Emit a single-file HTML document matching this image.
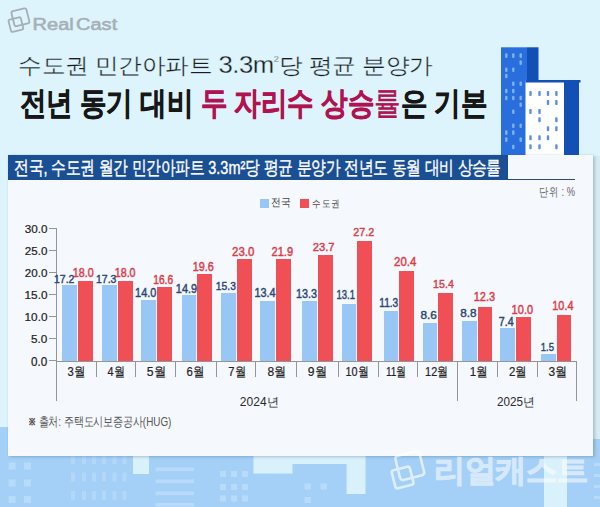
<!DOCTYPE html>
<html><head><meta charset="utf-8"><style>
*{margin:0;padding:0;box-sizing:border-box}
html,body{width:600px;height:507px;overflow:hidden}
body{position:relative;background:#ddf4fc;font-family:"Liberation Sans",sans-serif;color:#222}
.a{position:absolute}
.t{position:absolute;white-space:nowrap;line-height:1.2}
.ax{position:absolute;background:#959595}
.bb{position:absolute;background:#98c7f6}
.br{position:absolute;background:#ef4f55}
</style></head>
<body>
<svg class="a" style="left:0;top:420px" width="600" height="87" viewBox="0 420 600 87"><rect x="0" y="427" width="300" height="80" fill="#a4d0f8"/><rect x="300" y="439" width="300" height="68" fill="#a4d0f8"/><rect x="593" y="420" width="7" height="19" fill="#d3ecf8"/><rect x="8.7" y="445.5" width="7" height="7" fill="#b7dbf8"/><rect x="8.7" y="462.5" width="7" height="7" fill="#b7dbf8"/><rect x="8.7" y="479.5" width="7" height="7" fill="#b7dbf8"/><rect x="8.7" y="496" width="7" height="7" fill="#b7dbf8"/><rect x="24" y="445.5" width="7" height="7" fill="#b7dbf8"/><rect x="24" y="462.5" width="7" height="7" fill="#b7dbf8"/><rect x="24" y="479.5" width="7" height="7" fill="#b7dbf8"/><rect x="24" y="496" width="7" height="7" fill="#b7dbf8"/><rect x="71" y="455" width="4" height="9" fill="#b2d7f7"/><rect x="71" y="472.5" width="4" height="9" fill="#b2d7f7"/><rect x="71" y="491" width="4" height="9" fill="#b2d7f7"/><rect x="82" y="455" width="4" height="9" fill="#b2d7f7"/><rect x="82" y="472.5" width="4" height="9" fill="#b2d7f7"/><rect x="82" y="491" width="4" height="9" fill="#b2d7f7"/><rect x="92" y="455" width="4" height="9" fill="#b2d7f7"/><rect x="92" y="472.5" width="4" height="9" fill="#b2d7f7"/><rect x="92" y="491" width="4" height="9" fill="#b2d7f7"/><rect x="102" y="455" width="4" height="9" fill="#b2d7f7"/><rect x="102" y="472.5" width="4" height="9" fill="#b2d7f7"/><rect x="102" y="491" width="4" height="9" fill="#b2d7f7"/><rect x="112.5" y="455" width="4" height="9" fill="#b2d7f7"/><rect x="112.5" y="472.5" width="4" height="9" fill="#b2d7f7"/><rect x="112.5" y="491" width="4" height="9" fill="#b2d7f7"/><rect x="122.5" y="455" width="4" height="9" fill="#b2d7f7"/><rect x="122.5" y="472.5" width="4" height="9" fill="#b2d7f7"/><rect x="122.5" y="491" width="4" height="9" fill="#b2d7f7"/><rect x="133" y="440" width="16" height="34" fill="#d9f1fb"/><rect x="155.5" y="467.5" width="38.5" height="3.6" fill="#b7dbf8"/><rect x="155.5" y="479.5" width="38.5" height="3.6" fill="#b7dbf8"/><rect x="155.5" y="491.5" width="38.5" height="3.6" fill="#b7dbf8"/><rect x="155.5" y="503" width="38.5" height="3.6" fill="#b7dbf8"/><rect x="220" y="471" width="6" height="6" fill="#b7dbf8"/><rect x="220" y="484" width="6" height="6" fill="#b7dbf8"/><rect x="220" y="495.5" width="6" height="6" fill="#b7dbf8"/><rect x="231" y="471" width="6" height="6" fill="#b7dbf8"/><rect x="231" y="484" width="6" height="6" fill="#b7dbf8"/><rect x="231" y="495.5" width="6" height="6" fill="#b7dbf8"/><rect x="242" y="471" width="6" height="6" fill="#b7dbf8"/><rect x="242" y="484" width="6" height="6" fill="#b7dbf8"/><rect x="242" y="495.5" width="6" height="6" fill="#b7dbf8"/><path d="M253.5 440 H365.5 V494 H346.6 V464 H292.5 V473.6 H253.5 Z" fill="#d9f1fb"/><rect x="304.5" y="483.5" width="6.5" height="6" fill="#b7dbf8"/><rect x="320.5" y="483.5" width="6.5" height="6" fill="#b7dbf8"/><rect x="304.5" y="497" width="6.5" height="6" fill="#b7dbf8"/><rect x="544" y="440" width="23" height="67" fill="#d9f1fb"/><rect x="594" y="463" width="6" height="3" fill="#b7dbf8"/><rect x="594" y="474" width="6" height="3" fill="#b7dbf8"/><rect x="594" y="485" width="6" height="3" fill="#b7dbf8"/><rect x="594" y="496" width="6" height="3" fill="#b7dbf8"/></svg>
<svg class="a" style="left:0;top:0;overflow:visible" width="600" height="507" viewBox="0 0 600 507"><g fill="none" stroke="#a6afb6" stroke-width="1.8" opacity="1"><rect x="12.70" y="9.60" width="15.4" height="15.4" rx="1.85" transform="rotate(-14 20.4 17.3)"/><rect x="9.60" y="18.30" width="12.6" height="12.6" rx="1.51" transform="rotate(-14 15.9 24.6)"/></g></svg>
<svg class="a" style="left:495px;top:40px" width="100" height="120" viewBox="495 40 100 120"><rect x="501" y="47.3" width="26" height="110" fill="#2a6ddc"/><rect x="527" y="47.3" width="11.5" height="110" fill="#1350b6"/><rect x="505.1" y="53.300000000000004" width="2.4" height="4.6" rx="1" fill="#7ab2f3"/><rect x="512.0999999999999" y="53.300000000000004" width="2.4" height="4.6" rx="1" fill="#7ab2f3"/><rect x="519.5" y="53.300000000000004" width="2.4" height="4.6" rx="1" fill="#7ab2f3"/><rect x="519.5" y="60.300000000000004" width="2.4" height="4.6" rx="1" fill="#7ab2f3"/><rect x="505.1" y="67.4" width="2.4" height="4.6" rx="1" fill="#7ab2f3"/><rect x="512.0999999999999" y="67.4" width="2.4" height="4.6" rx="1" fill="#7ab2f3"/><rect x="505.1" y="73.7" width="2.4" height="4.6" rx="1" fill="#7ab2f3"/><rect x="512.0999999999999" y="81.5" width="2.4" height="4.6" rx="1" fill="#7ab2f3"/><rect x="519.5" y="81.5" width="2.4" height="4.6" rx="1" fill="#7ab2f3"/><rect x="505.1" y="88.7" width="2.4" height="4.6" rx="1" fill="#7ab2f3"/><rect x="512.0999999999999" y="88.7" width="2.4" height="4.6" rx="1" fill="#7ab2f3"/><rect x="505.1" y="95.7" width="2.4" height="4.6" rx="1" fill="#7ab2f3"/><rect x="512.0999999999999" y="95.7" width="2.4" height="4.6" rx="1" fill="#7ab2f3"/><rect x="519.5" y="95.7" width="2.4" height="4.6" rx="1" fill="#7ab2f3"/><rect x="519.5" y="102.5" width="2.4" height="4.6" rx="1" fill="#7ab2f3"/><rect x="512.0999999999999" y="109.5" width="2.4" height="4.6" rx="1" fill="#7ab2f3"/><rect x="512.0999999999999" y="123.4" width="2.4" height="4.6" rx="1" fill="#7ab2f3"/><rect x="519.5" y="123.4" width="2.4" height="4.6" rx="1" fill="#7ab2f3"/><rect x="505.1" y="130.29999999999998" width="2.4" height="4.6" rx="1" fill="#7ab2f3"/><rect x="512.0999999999999" y="130.29999999999998" width="2.4" height="4.6" rx="1" fill="#7ab2f3"/><rect x="505.1" y="137.29999999999998" width="2.4" height="4.6" rx="1" fill="#7ab2f3"/><rect x="519.5" y="137.29999999999998" width="2.4" height="4.6" rx="1" fill="#7ab2f3"/><rect x="512.0999999999999" y="144.7" width="2.4" height="4.6" rx="1" fill="#7ab2f3"/><rect x="525.5" y="80" width="39" height="80" fill="#ffffff"/><rect x="564" y="80" width="15" height="80" fill="#1350b6"/><rect x="525.5" y="80" width="55" height="2.5" fill="#1350b6"/><rect x="529.3" y="91.1" width="2.4" height="5" rx="0.8" fill="#5c8fe0"/><rect x="538.3" y="91.1" width="2.4" height="5" rx="0.8" fill="#5c8fe0"/><rect x="546.8" y="91.1" width="2.4" height="5" rx="0.8" fill="#5c8fe0"/><rect x="555.1999999999999" y="91.1" width="2.4" height="5" rx="0.8" fill="#5c8fe0"/><rect x="546.8" y="100.1" width="2.4" height="5" rx="0.8" fill="#5c8fe0"/><rect x="555.1999999999999" y="100.1" width="2.4" height="5" rx="0.8" fill="#5c8fe0"/><rect x="529.3" y="109.0" width="2.4" height="5" rx="0.8" fill="#5c8fe0"/><rect x="538.3" y="109.0" width="2.4" height="5" rx="0.8" fill="#5c8fe0"/><rect x="538.3" y="117.2" width="2.4" height="5" rx="0.8" fill="#5c8fe0"/><rect x="555.1999999999999" y="117.2" width="2.4" height="5" rx="0.8" fill="#5c8fe0"/><rect x="546.8" y="126.19999999999999" width="2.4" height="5" rx="0.8" fill="#5c8fe0"/><rect x="555.1999999999999" y="126.19999999999999" width="2.4" height="5" rx="0.8" fill="#5c8fe0"/><rect x="529.3" y="135.2" width="2.4" height="5" rx="0.8" fill="#5c8fe0"/><rect x="538.3" y="135.2" width="2.4" height="5" rx="0.8" fill="#5c8fe0"/><rect x="546.8" y="135.2" width="2.4" height="5" rx="0.8" fill="#5c8fe0"/><rect x="529.3" y="144.2" width="2.4" height="5" rx="0.8" fill="#5c8fe0"/><rect x="538.3" y="144.2" width="2.4" height="5" rx="0.8" fill="#5c8fe0"/><rect x="555.1999999999999" y="144.2" width="2.4" height="5" rx="0.8" fill="#5c8fe0"/></svg>
<div class="a" style="left:593px;top:156px;width:7px;height:283px;background:#d6edf5"></div>
<div class="a" style="left:8px;top:155px;width:585px;height:300.8px;background:#f5f8fd;box-shadow:2px 1px 3px rgba(55,85,100,.28),0 0 1px rgba(50,85,105,.2)"></div>
<div class="a" style="left:8px;top:155px;width:500px;height:25px;background:#1b4f93"></div>
<div class="a" style="left:508px;top:179px;width:67px;height:1.3px;background:#2c4a75"></div>
<div class="a" style="left:260px;top:199px;width:8.5px;height:8.5px;background:#98c7f6"></div>
<div class="a" style="left:300px;top:199px;width:8.5px;height:8.5px;background:#ef4f55"></div>
<div class="ax" style="left:49px;top:227.8px;width:8px;height:1px"></div>
<div class="ax" style="left:49px;top:249.9px;width:8px;height:1px"></div>
<div class="ax" style="left:49px;top:272.0px;width:8px;height:1px"></div>
<div class="ax" style="left:49px;top:294.1px;width:8px;height:1px"></div>
<div class="ax" style="left:49px;top:316.1px;width:8px;height:1px"></div>
<div class="ax" style="left:49px;top:338.2px;width:8px;height:1px"></div>
<div class="ax" style="left:49px;top:360.3px;width:8px;height:1px"></div>
<div class="ax" style="left:55.7px;top:228px;width:1px;height:173px"></div>
<div class="bb" style="left:62.3px;top:285.0px;width:14.6px;height:76.0px"></div>
<div class="br" style="left:78.2px;top:281.2px;width:14.6px;height:79.8px"></div>
<div class="bb" style="left:102.3px;top:285.0px;width:14.6px;height:76.0px"></div>
<div class="br" style="left:118.0px;top:281.3px;width:14.6px;height:79.7px"></div>
<div class="bb" style="left:141.2px;top:299.6px;width:14.6px;height:61.4px"></div>
<div class="br" style="left:157.0px;top:286.5px;width:14.6px;height:74.5px"></div>
<div class="bb" style="left:181.9px;top:295.2px;width:14.6px;height:65.8px"></div>
<div class="br" style="left:197.4px;top:273.8px;width:14.6px;height:87.2px"></div>
<div class="bb" style="left:221.3px;top:293.2px;width:14.6px;height:67.8px"></div>
<div class="br" style="left:237.2px;top:258.9px;width:14.6px;height:102.1px"></div>
<div class="bb" style="left:260.4px;top:301.3px;width:14.6px;height:59.7px"></div>
<div class="br" style="left:276.3px;top:258.9px;width:14.6px;height:102.1px"></div>
<div class="bb" style="left:302.4px;top:301.2px;width:14.6px;height:59.8px"></div>
<div class="br" style="left:318.2px;top:255.3px;width:14.6px;height:105.7px"></div>
<div class="bb" style="left:341.7px;top:304.1px;width:14.6px;height:56.9px"></div>
<div class="br" style="left:357.2px;top:240.8px;width:14.6px;height:120.2px"></div>
<div class="bb" style="left:383.5px;top:311.2px;width:14.6px;height:49.8px"></div>
<div class="br" style="left:399.0px;top:271.0px;width:14.6px;height:90.0px"></div>
<div class="bb" style="left:422.6px;top:323.3px;width:14.6px;height:37.7px"></div>
<div class="br" style="left:438.1px;top:292.6px;width:14.6px;height:68.4px"></div>
<div class="bb" style="left:462.3px;top:321.3px;width:14.6px;height:39.7px"></div>
<div class="br" style="left:477.9px;top:307.1px;width:14.6px;height:53.9px"></div>
<div class="bb" style="left:500.3px;top:328.3px;width:14.6px;height:32.7px"></div>
<div class="br" style="left:516.0px;top:317.3px;width:14.6px;height:43.7px"></div>
<div class="bb" style="left:541.0px;top:354.2px;width:14.6px;height:6.8px"></div>
<div class="br" style="left:556.6px;top:315.1px;width:14.6px;height:45.9px"></div>
<div class="ax" style="left:56px;top:360.5px;width:521px;height:1px"></div>
<div class="ax" style="left:95.7px;top:361.0px;width:1px;height:16px"></div>
<div class="ax" style="left:135.4px;top:361.0px;width:1px;height:16px"></div>
<div class="ax" style="left:175.1px;top:361.0px;width:1px;height:16px"></div>
<div class="ax" style="left:215.5px;top:361.0px;width:1px;height:16px"></div>
<div class="ax" style="left:255.2px;top:361.0px;width:1px;height:16px"></div>
<div class="ax" style="left:296.0px;top:361.0px;width:1px;height:16px"></div>
<div class="ax" style="left:337.5px;top:361.0px;width:1px;height:16px"></div>
<div class="ax" style="left:378.4px;top:361.0px;width:1px;height:16px"></div>
<div class="ax" style="left:416.8px;top:361.0px;width:1px;height:16px"></div>
<div class="ax" style="left:457.2px;top:361.0px;width:1px;height:40px"></div>
<div class="ax" style="left:496.5px;top:361.0px;width:1px;height:16px"></div>
<div class="ax" style="left:536.8px;top:361.0px;width:1px;height:16px"></div>
<div class="ax" style="left:576.2px;top:361.0px;width:1px;height:40px"></div>
<div class="t" id="logo" style="left:34px;top:12px;font-size:18px;color:#a6afb6;-webkit-text-stroke:0.6px #a6afb6;word-spacing:-3px;transform-origin:1.24px 2.75px;transform:translate(-1.27px,2.51px) scale(1.1127,0.9251)">Real Cast</div>
<div class="t" id="sub" style="left:19px;top:52px;font-size:23px;color:#1c1c1c;-webkit-text-stroke:0.3px #ddf4fc;transform-origin:1.57px 5.79px;transform:translate(-0.76px,-1.93px) scale(1.0180,0.9465)">수도권 민간아파트 <span style="font-size:1.1em;letter-spacing:-0.5px">3.3m</span><sup style="font-size:9px;vertical-align:12px">2</sup>당 평균 분양가</div>
<div class="t" id="title" style="left:20px;top:84px;font-size:34px;font-weight:bold;color:#171717;-webkit-text-stroke:0.6px;transform-origin:1.22px 5.75px;transform:translate(-0.75px,-0.66px) scale(0.7790,0.9407)">전년 동기 대비 <span style="color:#b01350">두 자리수 상승<span style="-webkit-text-stroke:0;font-weight:normal;-webkit-text-stroke:0.5px">률</span></span>은 기본</div>
<div class="t" id="htxt" style="left:15px;top:157px;font-size:18px;color:#fff;-webkit-text-stroke:0.35px #fff;transform-origin:1.49px 2.26px;transform:translate(-0.82px,0.42px) scale(0.8041,1.0334)">전국, 수도권 월간 민간아파트 3.3m²당 평균 분양가 전년도 동월 대비 상승률</div>
<div class="t" id="unit" style="left:540px;top:186px;font-size:11.5px;color:#666;transform-origin:1.35px 1.31px;transform:translate(-0.84px,-0.12px) scale(0.8120,1.0541)">단위 : %</div>
<div class="t" id="lg1" style="left:271px;top:196px;font-size:10.5px;color:#444;transform-origin:0.88px 1.90px;transform:translate(0.14px,-0.26px) scale(0.9298,1.0450)">전국</div>
<div class="t" id="lg2" style="left:313px;top:196px;font-size:10.5px;color:#444;transform-origin:0.84px 1.90px;transform:translate(-0.84px,0.53px) scale(0.8574,0.9969)">수도권</div>
<div class="t" id="y0" style="left:25.2px;top:220.3px;font-size:11.5px;color:#222;-webkit-text-stroke:0.2px;transform-origin:0.76px 2.13px;transform:translate(-0.33px,3.27px) scale(1.0157,0.9924)">30.0</div>
<div class="t" id="y1" style="left:25.2px;top:242.4px;font-size:11.5px;color:#222;-webkit-text-stroke:0.2px;transform-origin:0.73px 2.09px;transform:translate(-0.19px,2.89px) scale(1.0102,0.9899)">25.0</div>
<div class="t" id="y2" style="left:25.2px;top:264.5px;font-size:11.5px;color:#222;-webkit-text-stroke:0.2px;transform-origin:0.73px 2.12px;transform:translate(-0.18px,2.27px) scale(1.0084,1.0054)">20.0</div>
<div class="t" id="y3" style="left:25.2px;top:286.6px;font-size:11.5px;color:#222;-webkit-text-stroke:0.2px;transform-origin:0.91px 2.07px;transform:translate(-0.42px,1.91px) scale(1.0231,0.9859)">15.0</div>
<div class="t" id="y4" style="left:25.2px;top:308.6px;font-size:11.5px;color:#222;-webkit-text-stroke:0.2px;transform-origin:0.91px 2.07px;transform:translate(-0.40px,2.39px) scale(1.0220,0.9880)">10.0</div>
<div class="t" id="y5" style="left:31.4px;top:330.7px;font-size:11.5px;color:#222;-webkit-text-stroke:0.2px;transform-origin:0.87px 2.09px;transform:translate(0.08px,1.91px) scale(1.0229,1.0220)">5.0</div>
<div class="t" id="y6" style="left:31.4px;top:352.8px;font-size:11.5px;color:#222;-webkit-text-stroke:0.2px;transform-origin:0.82px 2.13px;transform:translate(0.08px,2.24px) scale(1.0180,1.0671)">0.0</div>
<div class="t" id="m0" style="left:67.8px;top:363px;font-size:13px;color:#222;-webkit-text-stroke:0.2px;transform-origin:0.45px 2.41px;transform:translate(-0.61px,0.85px) scale(0.8669,0.9865)">3월</div>
<div class="t" id="m1" style="left:107.6px;top:363px;font-size:13px;color:#222;-webkit-text-stroke:0.2px;transform-origin:-0.35px 2.41px;transform:translate(-0.42px,0.85px) scale(0.8403,0.9858)">4월</div>
<div class="t" id="m2" style="left:147.4px;top:363px;font-size:13px;color:#222;-webkit-text-stroke:0.2px;transform-origin:0.94px 2.41px;transform:translate(-0.26px,0.83px) scale(0.9357,0.9882)">5월</div>
<div class="t" id="m3" style="left:186.8px;top:363px;font-size:13px;color:#222;-webkit-text-stroke:0.2px;transform-origin:0.38px 2.41px;transform:translate(-0.67px,0.85px) scale(0.8730,0.9865)">6월</div>
<div class="t" id="m4" style="left:228.8px;top:363px;font-size:13px;color:#222;-webkit-text-stroke:0.2px;transform-origin:0.35px 2.41px;transform:translate(-0.68px,0.85px) scale(0.8572,0.9865)">7월</div>
<div class="t" id="m5" style="left:268.2px;top:363px;font-size:13px;color:#222;-webkit-text-stroke:0.2px;transform-origin:0.73px 2.41px;transform:translate(-0.56px,0.79px) scale(0.9263,0.9916)">8월</div>
<div class="t" id="m6" style="left:308.5px;top:363px;font-size:13px;color:#222;-webkit-text-stroke:0.2px;transform-origin:-0.07px 2.41px;transform:translate(-1.17px,0.83px) scale(0.9313,0.9882)">9월</div>
<div class="t" id="m7" style="left:346.4px;top:363px;font-size:13px;color:#222;-webkit-text-stroke:0.2px;transform-origin:1.38px 2.41px;transform:translate(-0.70px,0.78px) scale(0.8316,0.9920)">10월</div>
<div class="t" id="m8" style="left:386.3px;top:363px;font-size:13px;color:#222;-webkit-text-stroke:0.2px;transform-origin:0.93px 2.41px;transform:translate(-0.26px,0.65px) scale(0.7740,1.0035)">11월</div>
<div class="t" id="m9" style="left:425.9px;top:363px;font-size:13px;color:#222;-webkit-text-stroke:0.2px;transform-origin:0.80px 2.41px;transform:translate(-1.07px,0.80px) scale(0.8404,0.9903)">12월</div>
<div class="t" id="m10" style="left:470.6px;top:363px;font-size:13px;color:#222;-webkit-text-stroke:0.2px;transform-origin:0.38px 2.41px;transform:translate(-1.17px,0.81px) scale(0.8853,0.9899)">1월</div>
<div class="t" id="m11" style="left:509.6px;top:363px;font-size:13px;color:#222;-webkit-text-stroke:0.2px;transform-origin:-0.11px 2.41px;transform:translate(-0.88px,0.81px) scale(0.8824,0.9899)">2월</div>
<div class="t" id="m12" style="left:549.2px;top:363px;font-size:13px;color:#222;-webkit-text-stroke:0.2px;transform-origin:0.81px 2.41px;transform:translate(-0.54px,0.78px) scale(0.9251,0.9923)">3월</div>
<div class="t" id="vb0" style="left:54.6px;top:270.4px;font-size:12.5px;color:#2b4874;-webkit-text-stroke:0.45px;transform-origin:0.25px 1.75px;transform:translate(-1.05px,2.51px) scale(0.8396,0.9426)">17.2</div>
<div class="t" id="vr0" style="left:73.3px;top:264.4px;font-size:12.5px;color:#db3c48;-webkit-text-stroke:0.45px;transform-origin:0.86px 1.82px;transform:translate(-0.42px,2.08px) scale(0.8612,0.9889)">18.0</div>
<div class="t" id="vb1" style="left:96.6px;top:270.3px;font-size:12.5px;color:#2b4874;-webkit-text-stroke:0.45px;transform-origin:0.25px 1.75px;transform:translate(-1.05px,2.91px) scale(0.8391,0.9426)">17.3</div>
<div class="t" id="vr1" style="left:115.3px;top:264.4px;font-size:12.5px;color:#db3c48;-webkit-text-stroke:0.45px;transform-origin:0.86px 1.82px;transform:translate(-0.44px,2.10px) scale(0.8592,0.9866)">18.0</div>
<div class="t" id="vb2" style="left:135.7px;top:284.0px;font-size:12.5px;color:#2b4874;-webkit-text-stroke:0.45px;transform-origin:0.45px 1.78px;transform:translate(-0.97px,1.85px) scale(0.8737,0.9698)">14.0</div>
<div class="t" id="vr2" style="left:153.7px;top:270.7px;font-size:12.5px;color:#db3c48;-webkit-text-stroke:0.45px;transform-origin:0.45px 1.78px;transform:translate(-0.91px,1.93px) scale(0.8212,0.9830)">16.6</div>
<div class="t" id="vb3" style="left:176.4px;top:280.2px;font-size:12.5px;color:#2b4874;-webkit-text-stroke:0.45px;transform-origin:1.25px 1.79px;transform:translate(-0.31px,1.91px) scale(0.8706,0.9852)">14.9</div>
<div class="t" id="vr3" style="left:193.4px;top:257.7px;font-size:12.5px;color:#db3c48;-webkit-text-stroke:0.45px;transform-origin:1.25px 1.79px;transform:translate(-0.35px,1.91px) scale(0.8654,0.9855)">19.6</div>
<div class="t" id="vb4" style="left:216.2px;top:277.0px;font-size:12.5px;color:#2b4874;-webkit-text-stroke:0.45px;transform-origin:0.86px 1.75px;transform:translate(-0.34px,2.11px) scale(0.8248,0.9426)">15.3</div>
<div class="t" id="vr4" style="left:232.2px;top:242.7px;font-size:12.5px;color:#db3c48;-webkit-text-stroke:0.45px;transform-origin:0.61px 1.84px;transform:translate(-0.00px,1.78px) scale(0.9177,0.9992)">23.0</div>
<div class="t" id="vb5" style="left:255.0px;top:284.0px;font-size:12.5px;color:#2b4874;-webkit-text-stroke:0.45px;transform-origin:0.69px 1.78px;transform:translate(-0.62px,1.84px) scale(0.8682,0.9708)">13.4</div>
<div class="t" id="vr5" style="left:271.8px;top:242.5px;font-size:12.5px;color:#db3c48;-webkit-text-stroke:0.45px;transform-origin:-0.07px 1.78px;transform:translate(-0.47px,1.67px) scale(0.8841,0.9898)">21.9</div>
<div class="t" id="vb6" style="left:296.7px;top:284.5px;font-size:12.5px;color:#2b4874;-webkit-text-stroke:0.45px;transform-origin:0.45px 1.78px;transform:translate(-0.97px,1.84px) scale(0.8639,0.9711)">13.3</div>
<div class="t" id="vr6" style="left:312.9px;top:237.7px;font-size:12.5px;color:#db3c48;-webkit-text-stroke:0.45px;transform-origin:0.42px 1.75px;transform:translate(-0.37px,2.31px) scale(0.8983,0.9426)">23.7</div>
<div class="t" id="vb7" style="left:337.1px;top:286.6px;font-size:12.5px;color:#2b4874;-webkit-text-stroke:0.45px;transform-origin:0.69px 1.79px;transform:translate(-0.70px,1.31px) scale(0.7602,0.9859)">13.1</div>
<div class="t" id="vr7" style="left:353.2px;top:223.0px;font-size:12.5px;color:#db3c48;-webkit-text-stroke:0.45px;transform-origin:0.61px 1.75px;transform:translate(0.08px,2.11px) scale(0.8628,0.9426)">27.2</div>
<div class="t" id="vb8" style="left:379.7px;top:294.6px;font-size:12.5px;color:#2b4874;-webkit-text-stroke:0.45px;transform-origin:0.45px 1.78px;transform:translate(-0.84px,1.29px) scale(0.8130,0.9876)">11.3</div>
<div class="t" id="vr8" style="left:394.2px;top:253.2px;font-size:12.5px;color:#db3c48;-webkit-text-stroke:0.45px;transform-origin:0.61px 1.78px;transform:translate(0.02px,2.02px) scale(0.9145,0.9732)">20.4</div>
<div class="t" id="vb9" style="left:420.7px;top:306.4px;font-size:12.5px;color:#2b4874;-webkit-text-stroke:0.45px;transform-origin:-0.07px 1.84px;transform:translate(-0.53px,2.89px) scale(0.9432,0.9275)">8.6</div>
<div class="t" id="vr9" style="left:433.7px;top:275.2px;font-size:12.5px;color:#db3c48;-webkit-text-stroke:0.45px;transform-origin:0.45px 1.75px;transform:translate(-0.95px,2.31px) scale(0.8505,0.9426)">15.4</div>
<div class="t" id="vb10" style="left:460.3px;top:304.6px;font-size:12.5px;color:#2b4874;-webkit-text-stroke:0.45px;transform-origin:0.62px 1.84px;transform:translate(0.13px,2.10px) scale(0.9393,0.9325)">8.8</div>
<div class="t" id="vr10" style="left:474.3px;top:288.6px;font-size:12.5px;color:#db3c48;-webkit-text-stroke:0.45px;transform-origin:0.86px 1.83px;transform:translate(-0.46px,1.27px) scale(0.8801,0.9904)">12.3</div>
<div class="t" id="vb11" style="left:499.0px;top:313.0px;font-size:12.5px;color:#2b4874;-webkit-text-stroke:0.45px;transform-origin:0.40px 1.75px;transform:translate(-0.29px,2.11px) scale(0.8550,0.9723)">7.4</div>
<div class="t" id="vr11" style="left:512.3px;top:301.0px;font-size:12.5px;color:#db3c48;-webkit-text-stroke:0.45px;transform-origin:0.86px 1.82px;transform:translate(-0.48px,1.68px) scale(0.8816,0.9889)">10.0</div>
<div class="t" id="vb12" style="left:541.0px;top:338.8px;font-size:12.5px;color:#2b4874;-webkit-text-stroke:0.45px;transform-origin:0.69px 1.75px;transform:translate(-0.45px,1.91px) scale(0.7589,0.9426)">1.5</div>
<div class="t" id="vr12" style="left:552.8px;top:297.4px;font-size:12.5px;color:#db3c48;-webkit-text-stroke:0.45px;transform-origin:0.45px 1.78px;transform:translate(-0.71px,2.27px) scale(0.8659,0.9683)">10.4</div>
<div class="t" id="yr1" style="left:240px;top:394px;font-size:12.5px;color:#2a2a2a;transform-origin:0.66px 1.47px;transform:translate(-0.16px,1.23px) scale(0.9615,0.9631)">2024년</div>
<div class="t" id="yr2" style="left:497px;top:394px;font-size:12.5px;color:#2a2a2a;transform-origin:0.66px 1.47px;transform:translate(0.02px,1.25px) scale(0.9361,0.9599)">2025년</div>
<div class="t" id="src" style="left:30px;top:414px;font-size:12px;color:#555;transform-origin:0.36px 1.75px;transform:translate(-0.83px,0.80px) scale(0.8234,1.0606)"><span style="font-size:9px;-webkit-text-stroke:0.6px;vertical-align:1px">※</span> 출처: 주택도시보증공사(HUG)</div>
<div class="t" id="wm" style="left:436px;top:452px;font-size:32px;font-weight:bold;color:#fff;opacity:.55;-webkit-text-stroke:1px #fff;transform-origin:1.91px 5.00px;transform:translate(-2.35px,0.38px) scale(0.9623,0.9528)">리얼캐스트</div>
<svg class="a" style="left:0;top:0;overflow:visible" width="600" height="507" viewBox="0 0 600 507"><g fill="none" stroke="#ffffff" stroke-width="2.6" opacity="0.65"><rect x="397.40" y="453.20" width="24.8" height="24.8" rx="2.98" transform="rotate(-14 409.8 465.6)"/><rect x="393.30" y="468.20" width="18.6" height="18.6" rx="2.23" transform="rotate(-14 402.6 477.5)"/></g></svg>
</body></html>
